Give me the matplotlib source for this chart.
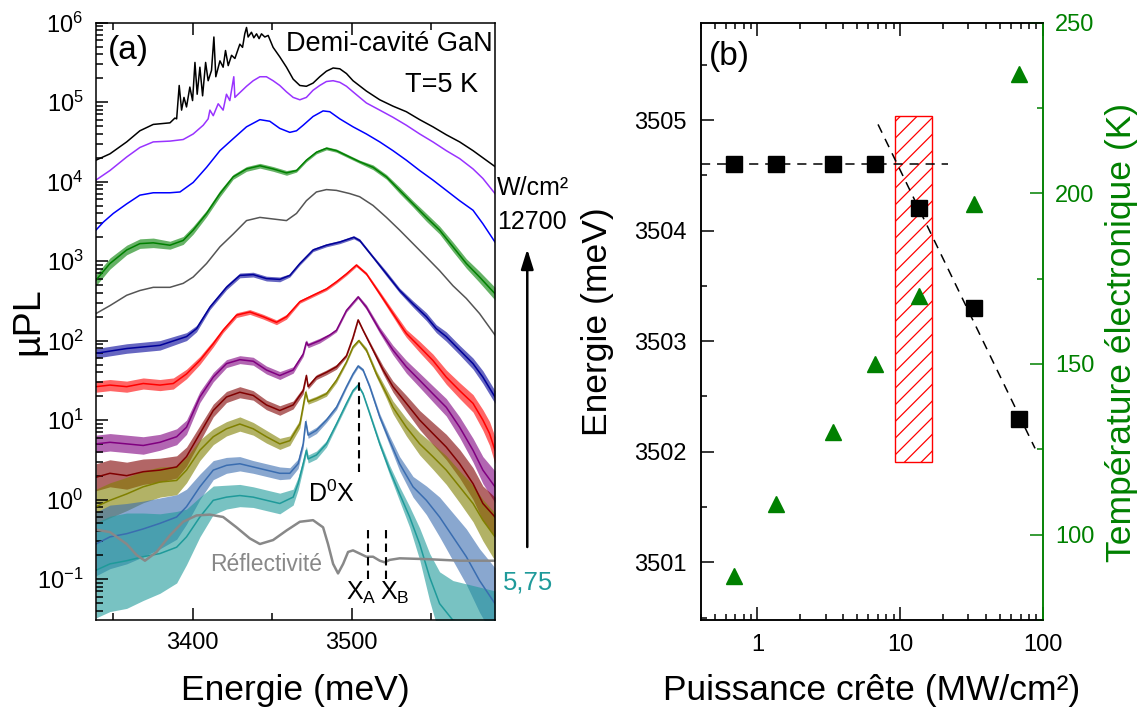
import matplotlib

matplotlib.use("Agg")
import matplotlib.pyplot as plt
import numpy as np
from matplotlib.patches import FancyArrowPatch, Rectangle
from matplotlib.ticker import FuncFormatter, LogLocator, MultipleLocator, NullFormatter

plt.rcParams.update({
    "font.family": "Liberation Sans",
    "mathtext.fontset": "custom",
    "mathtext.rm": "Liberation Sans",
    "mathtext.it": "Liberation Sans:italic",
    "mathtext.bf": "Liberation Sans:bold",
    "axes.linewidth": 1.1,
    "hatch.linewidth": 0.9,
})

# %% Data — (a) µPL spectra: (energy meV, log10 intensity[, noise half-width in decades])
black = np.array([
    (3339.3, 4.27), (3348.1, 4.35), (3358.6, 4.50), (3366.9, 4.64), (3375.3, 4.72), (3385.8, 4.74),
    (3388.9, 4.80), (3390.0, 4.79), (3391.6, 5.21), (3393.1, 4.90), (3394.6, 5.06), (3396.2, 4.94),
    (3398.3, 5.19), (3400.0, 5.02), (3401.5, 5.50), (3402.9, 5.10), (3404.6, 5.44), (3406.3, 5.08),
    (3408.2, 5.50), (3409.8, 5.27), (3411.9, 5.40), (3413.4, 5.82), (3414.6, 5.32), (3417.2, 5.52),
    (3419.2, 5.44), (3420.7, 5.65), (3422.4, 5.46), (3424.5, 5.59), (3426.6, 5.55), (3429.7, 5.73),
    (3431.4, 5.69), (3432.8, 5.86), (3433.9, 5.94), (3434.9, 5.82), (3437.0, 5.88), (3438.5, 5.81),
    (3440.2, 5.86), (3441.8, 5.80), (3443.3, 5.86), (3445.4, 5.82), (3447.5, 5.84), (3450.6, 5.69),
    (3454.8, 5.57), (3459.0, 5.44), (3463.2, 5.29), (3467.4, 5.21), (3471.5, 5.20), (3475.7, 5.24),
    (3479.9, 5.32), (3484.1, 5.39), (3488.3, 5.43), (3492.5, 5.42), (3496.7, 5.36), (3500.8, 5.27),
    (3509.2, 5.14), (3517.6, 5.03), (3525.9, 4.95), (3534.3, 4.88), (3542.7, 4.78), (3551.0, 4.69),
    (3559.4, 4.59), (3567.8, 4.50), (3576.2, 4.39), (3582.4, 4.30), (3590.0, 4.19),
])
violet = np.array([
    (3339.3, 4.02), (3348.1, 4.14), (3358.6, 4.31), (3366.9, 4.43), (3375.3, 4.50), (3385.8, 4.51),
    (3394.1, 4.53), (3400.4, 4.60), (3406.7, 4.71), (3409.8, 4.79), (3410.9, 4.90), (3413.0, 4.83),
    (3416.1, 4.98), (3419.2, 4.90), (3421.3, 5.10), (3423.4, 5.02), (3425.9, 5.32), (3426.6, 5.06),
    (3427.6, 5.08), (3433.9, 5.20), (3438.1, 5.27), (3442.3, 5.32), (3446.4, 5.32), (3450.6, 5.27),
    (3454.8, 5.21), (3459.0, 5.13), (3463.2, 5.06), (3467.4, 5.03), (3471.5, 5.06), (3475.7, 5.15),
    (3479.9, 5.21), (3484.1, 5.26), (3488.3, 5.27), (3492.5, 5.25), (3496.7, 5.20), (3500.8, 5.13),
    (3509.2, 4.99), (3517.6, 4.90), (3525.9, 4.81), (3534.3, 4.71), (3542.7, 4.60), (3551.0, 4.50),
    (3559.4, 4.39), (3567.8, 4.29), (3576.2, 4.16), (3582.4, 4.04), (3590.0, 3.85),
])
blue = np.array([
    (3339.3, 3.39), (3343.9, 3.49), (3350.2, 3.60), (3358.6, 3.72), (3366.9, 3.83), (3375.3, 3.86),
    (3385.8, 3.86), (3392.1, 3.87), (3400.4, 3.99), (3408.8, 4.18), (3417.2, 4.39), (3425.5, 4.54),
    (3433.9, 4.69), (3442.3, 4.78), (3448.5, 4.76), (3454.8, 4.67), (3461.1, 4.62), (3465.3, 4.64),
    (3469.5, 4.71), (3475.7, 4.82), (3482.0, 4.89), (3486.2, 4.88), (3492.5, 4.79), (3500.8, 4.69),
    (3509.2, 4.60), (3517.6, 4.50), (3525.9, 4.39), (3534.3, 4.27), (3542.7, 4.14), (3551.0, 4.02),
    (3559.4, 3.89), (3567.8, 3.76), (3576.2, 3.64), (3582.4, 3.47), (3590.0, 3.24),
])
green = np.array([
    (3339.3, 2.76, 0.07), (3348.1, 2.97, 0.07), (3358.6, 3.14, 0.06), (3366.9, 3.22, 0.06),
    (3375.3, 3.23, 0.06), (3385.8, 3.20, 0.05), (3394.1, 3.26, 0.05), (3400.4, 3.39, 0.05),
    (3408.8, 3.60, 0.04), (3417.2, 3.85, 0.04), (3425.5, 4.06, 0.03), (3433.9, 4.16, 0.03),
    (3442.3, 4.20, 0.03), (3450.6, 4.16, 0.03), (3459.0, 4.11, 0.03), (3465.3, 4.14, 0.02),
    (3471.5, 4.27, 0.02), (3477.8, 4.37, 0.02), (3484.1, 4.42, 0.02), (3490.4, 4.39, 0.02),
    (3498.7, 4.31, 0.02), (3505.0, 4.25, 0.02), (3513.4, 4.18, 0.03), (3521.8, 4.06, 0.03),
    (3530.1, 3.89, 0.04), (3538.5, 3.72, 0.04), (3546.9, 3.55, 0.05), (3555.2, 3.39, 0.05),
    (3563.6, 3.18, 0.06), (3572.0, 2.97, 0.06), (3580.3, 2.80, 0.07), (3590.0, 2.59, 0.08),
])
grey = np.array([
    (3339.3, 2.34), (3348.1, 2.44), (3358.6, 2.57), (3366.9, 2.63), (3375.3, 2.67), (3385.8, 2.67),
    (3394.1, 2.72), (3400.4, 2.80), (3408.8, 2.97), (3417.2, 3.18), (3425.5, 3.34), (3433.9, 3.51),
    (3442.3, 3.55), (3450.6, 3.53), (3459.0, 3.51), (3465.3, 3.60), (3471.5, 3.76), (3477.8, 3.87),
    (3484.1, 3.90), (3490.4, 3.89), (3498.7, 3.85), (3505.0, 3.81), (3513.4, 3.70), (3521.8, 3.55),
    (3530.1, 3.39), (3538.5, 3.22), (3546.9, 3.05), (3555.2, 2.88), (3563.6, 2.69), (3572.0, 2.53),
    (3580.3, 2.34), (3590.0, 2.07),
])
navy = np.array([
    (3339.3, 1.84, 0.06), (3358.6, 1.90, 0.06), (3379.5, 1.94, 0.06), (3396.2, 2.05, 0.05),
    (3402.5, 2.15, 0.04), (3410.9, 2.42, 0.03), (3421.3, 2.67, 0.03), (3429.7, 2.82, 0.03),
    (3438.1, 2.83, 0.03), (3446.4, 2.78, 0.03), (3454.8, 2.77, 0.03), (3461.1, 2.82, 0.02),
    (3467.4, 2.97, 0.02), (3475.7, 3.14, 0.02), (3484.1, 3.20, 0.02), (3492.5, 3.24, 0.02),
    (3501.3, 3.30, 0.02), (3505.0, 3.26, 0.02), (3513.4, 3.05, 0.02), (3521.8, 2.84, 0.03),
    (3530.1, 2.63, 0.03), (3538.5, 2.46, 0.04), (3546.9, 2.30, 0.05), (3553.1, 2.15, 0.05),
    (3559.4, 2.05, 0.06), (3567.8, 1.88, 0.06), (3576.2, 1.71, 0.07), (3582.4, 1.54, 0.08),
    (3590.0, 1.29, 0.08),
])
red = np.array([
    (3339.3, 1.42, 0.07), (3348.1, 1.44, 0.07), (3358.6, 1.42, 0.07), (3369.0, 1.46, 0.07),
    (3379.5, 1.44, 0.07), (3387.9, 1.46, 0.07), (3396.2, 1.58, 0.06), (3404.6, 1.75, 0.05),
    (3413.0, 1.96, 0.04), (3419.2, 2.13, 0.03), (3427.6, 2.32, 0.03), (3436.0, 2.36, 0.03),
    (3444.4, 2.30, 0.03), (3452.7, 2.23, 0.03), (3459.0, 2.30, 0.03), (3467.4, 2.49, 0.02),
    (3475.7, 2.57, 0.02), (3484.1, 2.65, 0.02), (3490.4, 2.74, 0.02), (3496.7, 2.84, 0.02),
    (3502.9, 2.95, 0.02), (3509.2, 2.84, 0.02), (3517.6, 2.59, 0.03), (3525.9, 2.34, 0.04),
    (3532.2, 2.15, 0.05), (3534.3, 2.09, 0.05), (3542.7, 1.92, 0.07), (3551.0, 1.75, 0.08),
    (3559.4, 1.54, 0.09), (3567.8, 1.37, 0.10), (3576.2, 1.21, 0.11), (3582.4, 1.00, 0.13),
    (3586.6, 0.83, 0.15), (3590.0, 0.62, 0.17),
])
purple = np.array([
    (3339.3, 0.70, 0.11), (3348.1, 0.72, 0.11), (3358.6, 0.70, 0.11), (3369.0, 0.68, 0.11),
    (3379.5, 0.72, 0.10), (3390.0, 0.79, 0.10), (3396.2, 0.91, 0.09), (3404.6, 1.29, 0.07),
    (3413.0, 1.54, 0.06), (3421.3, 1.71, 0.05), (3429.7, 1.76, 0.05), (3438.1, 1.74, 0.05),
    (3446.4, 1.63, 0.05), (3454.8, 1.56, 0.05), (3463.2, 1.63, 0.04), (3469.5, 1.83, 0.03),
    (3471.5, 1.98, 0.03), (3472.6, 1.94, 0.03), (3479.9, 2.00, 0.03), (3486.2, 2.07, 0.02),
    (3490.4, 2.13, 0.02), (3496.7, 2.38, 0.02), (3504.0, 2.55, 0.02), (3509.2, 2.42, 0.03),
    (3517.6, 2.13, 0.04), (3525.9, 1.88, 0.06), (3534.3, 1.67, 0.08), (3542.7, 1.50, 0.09),
    (3551.0, 1.33, 0.10), (3559.4, 1.16, 0.11), (3567.8, 0.91, 0.13), (3576.2, 0.62, 0.15),
    (3582.4, 0.37, 0.17), (3590.0, 0.16, 0.20),
])
maroon = np.array([
    (3339.3, 0.28, 0.17), (3348.1, 0.33, 0.17), (3358.6, 0.30, 0.17), (3369.0, 0.35, 0.16),
    (3379.5, 0.37, 0.15), (3390.0, 0.41, 0.14), (3396.2, 0.54, 0.12), (3404.6, 0.83, 0.10),
    (3413.0, 1.12, 0.08), (3421.3, 1.29, 0.07), (3429.7, 1.35, 0.07), (3438.1, 1.31, 0.06),
    (3446.4, 1.19, 0.06), (3454.8, 1.12, 0.06), (3463.2, 1.19, 0.05), (3469.5, 1.37, 0.04),
    (3471.5, 1.56, 0.03), (3472.6, 1.42, 0.03), (3477.8, 1.54, 0.03), (3484.1, 1.60, 0.03),
    (3490.4, 1.67, 0.03), (3496.7, 1.81, 0.02), (3500.8, 2.04, 0.02), (3504.0, 2.26, 0.02),
    (3507.1, 2.13, 0.02), (3513.4, 1.88, 0.03), (3519.7, 1.63, 0.05), (3525.9, 1.42, 0.07),
    (3534.3, 1.21, 0.10), (3542.7, 1.00, 0.12), (3551.0, 0.83, 0.14), (3559.4, 0.66, 0.16),
    (3567.8, 0.45, 0.18), (3576.2, 0.20, 0.20), (3582.4, -0.05, 0.22), (3590.0, -0.22, 0.25),
])
olive = np.array([
    (3339.3, -0.09, 0.22), (3348.1, -0.01, 0.22), (3358.6, 0.07, 0.21), (3369.0, 0.16, 0.20),
    (3379.5, 0.22, 0.19), (3390.0, 0.24, 0.18), (3396.2, 0.37, 0.16), (3404.6, 0.62, 0.13),
    (3413.0, 0.79, 0.10), (3421.3, 0.89, 0.09), (3429.7, 0.95, 0.09), (3438.1, 0.89, 0.08),
    (3446.4, 0.79, 0.08), (3454.8, 0.70, 0.07), (3461.1, 0.74, 0.06), (3467.4, 0.95, 0.05),
    (3471.1, 1.35, 0.04), (3472.6, 1.23, 0.03), (3477.8, 1.27, 0.03), (3484.1, 1.33, 0.03),
    (3490.4, 1.50, 0.03), (3496.7, 1.73, 0.02), (3500.8, 1.92, 0.02), (3504.4, 2.00, 0.02),
    (3509.2, 1.88, 0.03), (3515.5, 1.58, 0.04), (3521.8, 1.33, 0.06), (3525.9, 1.16, 0.08),
    (3534.3, 0.91, 0.11), (3542.7, 0.70, 0.14), (3551.0, 0.54, 0.16), (3559.4, 0.37, 0.18),
    (3567.8, 0.16, 0.20), (3576.2, -0.05, 0.23), (3582.4, -0.26, 0.26), (3590.0, -0.47, 0.30),
])
steel = np.array([
    (3339.3, -0.56, 0.40), (3348.1, -0.47, 0.40), (3358.6, -0.43, 0.38), (3369.0, -0.37, 0.35),
    (3379.5, -0.30, 0.32), (3390.0, -0.22, 0.28), (3396.2, -0.09, 0.22), (3404.6, 0.16, 0.16),
    (3413.0, 0.37, 0.12), (3421.3, 0.43, 0.10), (3429.7, 0.45, 0.09), (3438.1, 0.41, 0.08),
    (3446.4, 0.37, 0.08), (3454.8, 0.33, 0.08), (3461.1, 0.33, 0.07), (3466.3, 0.45, 0.06),
    (3469.5, 0.70, 0.05), (3471.1, 0.98, 0.04), (3472.6, 0.81, 0.04), (3477.8, 0.87, 0.04),
    (3484.1, 1.00, 0.03), (3490.4, 1.16, 0.03), (3496.7, 1.42, 0.02), (3500.8, 1.58, 0.02),
    (3504.0, 1.68, 0.02), (3507.1, 1.63, 0.02), (3511.3, 1.42, 0.03), (3517.6, 1.04, 0.04),
    (3523.8, 0.74, 0.06), (3530.1, 0.45, 0.09), (3538.5, 0.16, 0.13), (3546.9, -0.01, 0.18),
    (3555.2, -0.22, 0.25), (3563.6, -0.47, 0.30), (3572.0, -0.72, 0.35), (3580.3, -1.02, 0.40),
    (3590.0, -1.31, 0.45),
])
teal = np.array([
    (3339.3, -0.89, 0.60), (3348.1, -0.81, 0.60), (3358.6, -0.77, 0.60), (3369.0, -0.72, 0.55),
    (3379.5, -0.68, 0.50), (3390.0, -0.60, 0.45), (3396.2, -0.47, 0.35), (3404.6, -0.22, 0.25),
    (3413.0, -0.01, 0.18), (3421.3, 0.03, 0.15), (3429.7, 0.05, 0.14), (3438.1, 0.03, 0.13),
    (3446.4, -0.01, 0.13), (3454.8, -0.05, 0.13), (3463.2, 0.03, 0.10), (3466.3, 0.20, 0.08),
    (3469.5, 0.45, 0.06), (3471.5, 0.62, 0.05), (3472.6, 0.51, 0.05), (3477.8, 0.56, 0.05),
    (3484.1, 0.70, 0.04), (3490.4, 0.95, 0.03), (3496.7, 1.21, 0.03), (3500.8, 1.37, 0.02),
    (3504.0, 1.44, 0.02), (3507.1, 1.33, 0.02), (3511.3, 1.08, 0.03), (3517.6, 0.70, 0.04),
    (3523.8, 0.37, 0.06), (3530.1, 0.07, 0.09), (3536.4, -0.22, 0.13), (3542.7, -0.56, 0.20),
    (3549.0, -0.98, 0.30), (3555.2, -1.31, 0.40), (3563.6, -1.52, 0.50), (3590.0, -1.60, 0.45),
])
reflect = np.array([
    (3339.3, -0.38), (3348.1, -0.41), (3358.6, -0.56), (3364.9, -0.70), (3370.1, -0.77), (3377.4, -0.66),
    (3385.8, -0.45), (3394.1, -0.28), (3402.5, -0.20), (3410.9, -0.19), (3419.2, -0.22), (3427.6, -0.35),
    (3436.0, -0.49), (3442.3, -0.56), (3450.6, -0.51), (3459.0, -0.39), (3467.4, -0.28), (3475.7, -0.26),
    (3482.0, -0.35), (3485.1, -0.56), (3488.3, -0.81), (3491.4, -0.93), (3494.6, -0.81), (3497.7, -0.66),
    (3500.8, -0.64), (3505.0, -0.68), (3509.2, -0.72), (3513.4, -0.72), (3517.6, -0.77), (3520.7, -0.79),
    (3523.8, -0.76), (3530.1, -0.74), (3546.9, -0.75), (3567.8, -0.77), (3590.0, -0.77),
])
spectra = [black, violet, blue, green, grey, navy, red, purple, maroon, olive, steel, teal]
spec_colors = ["#000000", "#9933ff", "#0000ff", "#008000", "#555555", "#000099",
               "#ff0000", "#800080", "#800000", "#808000", "#3a6db0", "#1f9a9a"]
decades = [-1, 0, 1, 2, 3, 4, 5, 6]

# excitonic line positions (meV) and dashed marker extents (µPL units)
d0x_e, d0x_span = 3504.6, (2.2, 31.5)
xa_e, xb_e, xab_span = 3510.3, 3521.8, (0.10, 0.41)

# %% Data — (b) peak energy and electronic temperature vs peak power
power = [0.687, 1.35, 3.38, 6.71, 13.5, 33.0, 68.6]        # MW/cm²
energy = [3504.6, 3504.6, 3504.6, 3504.6, 3504.2, 3503.3, 3502.3]  # meV
temperature = [88, 109, 130, 150, 170, 197, 235]           # K
plateau_x, plateau_y = [0.4, 21.8], [3504.6, 3504.6]
slope_x, slope_y = [7.0, 88.3], [3504.96, 3502.03]
band_x, band_y = [9.27, 16.7], [3501.91, 3505.04]

GREEN = "#008000"

fig = plt.figure(figsize=(11.45, 7.14), dpi=100)
ax_a = fig.add_axes([0.0838, 0.1317, 0.3485, 0.8365])
ax_b = fig.add_axes([0.6120, 0.1317, 0.2987, 0.8365])
ax_t = ax_b.twinx()

# %% Panel (a)
for spec, col in zip(spectra, spec_colors):
    e, lg = spec[:, 0], spec[:, 1]
    if spec.shape[1] == 3:  # noisy spectra: shade the scatter band
        w = spec[:, 2]
        ax_a.fill_between(e, 10 ** (lg - w), 10 ** (lg + w), color=col, lw=0, alpha=0.6)
    ax_a.plot(e, 10 ** lg, color=col, lw=1.1)
ax_a.plot(reflect[:, 0], 10 ** reflect[:, 1], color="#888888", lw=1.8)
for xe, span in [(d0x_e, d0x_span), (xa_e, xab_span), (xb_e, xab_span)]:
    ax_a.plot([xe, xe], span, color="black", lw=1.5, dashes=(4, 2.5))

ax_a.set_yscale("log")
ax_a.set_xlim(3339.3, 3590)
ax_a.set_ylim(0.0305, 1e6)
ax_a.xaxis.set_major_locator(MultipleLocator(100))
ax_a.xaxis.set_minor_locator(MultipleLocator(50))
ax_a.set_yticks([10.0 ** d for d in decades])
ax_a.yaxis.set_minor_locator(LogLocator(base=10, subs=np.arange(2, 10), numticks=20))
ax_a.yaxis.set_minor_formatter(NullFormatter())
ax_a.tick_params(which="both", direction="in", top=True, right=False, width=1.1, labelsize=17)
ax_a.tick_params(which="major", length=8.5, pad=9)
ax_a.tick_params(which="minor", length=5)

ax_a.set_xlabel("Energie (meV)", fontsize=25.5, va="top")
ax_a.xaxis.set_label_coords(0.5, -0.09)
ax_a.set_ylabel("µPL", fontsize=27)
ax_a.yaxis.set_label_coords(-0.125, 0.5)

ax_a.text(0.030, 0.953, "(a)", transform=ax_a.transAxes, fontsize=24, va="center")
ax_a.text(0.994, 0.953, "Demi-cavité GaN", transform=ax_a.transAxes, fontsize=19.5,
          ha="right", va="baseline")
ax_a.text(0.957, 0.884, "T=5 K", transform=ax_a.transAxes, fontsize=19.5, ha="right", va="baseline")
ax_a.text(3487.2, 1.18, r"D$^\mathrm{0}$X", fontsize=18, ha="center", va="center")
ax_a.text(3496.2, 0.054, r"X$_\mathrm{A}$", fontsize=18, ha="left", va="baseline")
ax_a.text(3518.0, 0.054, r"X$_\mathrm{B}$", fontsize=18, ha="left", va="baseline")
ax_a.text(3411.3, 0.126, "Réflectivité", fontsize=16.5, color="#888888", ha="left", va="baseline")

# power scale annotation outside the frame
fig.text(0.4343, 0.727, "W/cm²", fontsize=18)
fig.text(0.4343, 0.679, "12700", fontsize=18)
fig.text(0.439, 0.175, "5,75", fontsize=18.5, color="#1f9a9a")
fig.add_artist(FancyArrowPatch(
    (0.4605, 0.230), (0.4605, 0.655), transform=fig.transFigure,
    arrowstyle="-|>,head_length=0.8,head_width=0.25", mutation_scale=15, lw=1.8, color="black"))

# %% Panel (b)
ax_b.add_patch(Rectangle((band_x[0], band_y[0]), band_x[1] - band_x[0], band_y[1] - band_y[0],
                         facecolor="white", edgecolor="red", hatch="//", lw=1.0, zorder=1))
ax_b.plot(plateau_x, plateau_y, color="black", lw=1.1, dashes=(6, 4.5), zorder=2)
ax_b.plot(slope_x, slope_y, color="black", lw=1.1, dashes=(6, 4.5), zorder=2)
ax_b.plot(power, energy, "s", color="black", ms=11.5, zorder=3)
ax_t.plot(power, temperature, "^", color=GREEN, ms=12, zorder=3)

ax_b.set_xscale("log")
ax_b.set_xlim(0.4, 100)
ax_b.set_ylim(3500.478, 3505.88)
ax_b.yaxis.set_major_locator(MultipleLocator(1))
ax_b.yaxis.set_minor_locator(MultipleLocator(0.5))
ax_b.set_xticks([1, 10, 100])
ax_b.xaxis.set_minor_locator(LogLocator(base=10, subs=np.arange(2, 10), numticks=10))
ax_b.xaxis.set_minor_formatter(NullFormatter())
ax_b.xaxis.set_major_formatter(FuncFormatter(lambda v, _: f"{v:g}"))
ax_b.tick_params(which="both", direction="in", top=True, right=False, width=1.1, labelsize=17)
ax_b.tick_params(which="major", length=9.5, pad=10)
ax_b.tick_params(which="minor", length=4.5)
ax_b.set_xlabel("Puissance crête (MW/cm²)", fontsize=25.5, va="top")
ax_b.xaxis.set_label_coords(0.5, -0.09)
ax_b.set_ylabel("Energie (meV)", fontsize=25.5)
ax_b.yaxis.set_label_coords(-0.253, 0.5)
ax_b.text(0.025, 0.944, "(b)", transform=ax_b.transAxes, fontsize=24, va="center")

ax_t.set_ylim(75, 250)
ax_t.yaxis.set_major_locator(MultipleLocator(50))
ax_t.yaxis.set_minor_locator(MultipleLocator(25))
ax_t.tick_params(which="both", direction="in", color=GREEN, labelcolor=GREEN, width=1.1, labelsize=17)
ax_t.tick_params(which="major", length=9.5, pad=9)
ax_t.tick_params(which="minor", length=4.5)
ax_t.spines["right"].set_color(GREEN)
ax_b.spines["right"].set_color(GREEN)
ax_t.set_ylabel("Température électronique (K)", fontsize=25.5, color=GREEN)
ax_t.yaxis.set_label_coords(1.182, 0.482)

fig.savefig("out.png", dpi=100)
